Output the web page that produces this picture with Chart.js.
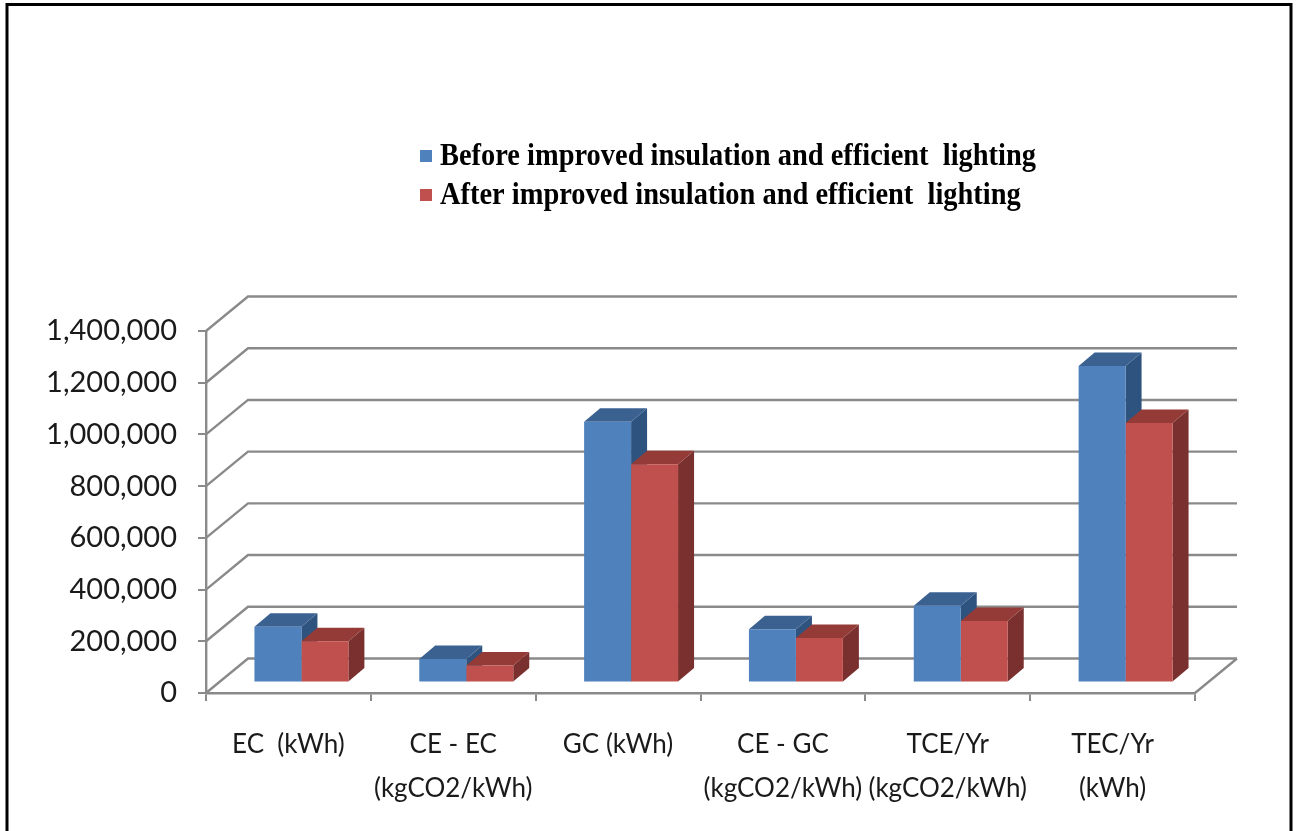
<!DOCTYPE html>
<html>
<head>
<meta charset="utf-8">
<title>Energy use and carbon emissions</title>
<script src="https://cdn.jsdelivr.net/npm/chart.js@4.4.1/dist/chart.umd.min.js"></script>
<style>
  html, body { margin: 0; padding: 0; background: #ffffff; }
  #wrap { position: relative; width: 1298px; height: 831px; }
</style>
</head>
<body>
<div id="wrap"><canvas id="chart" width="1298" height="831"></canvas></div>
<script>
// ---- data ----
const categories = [
  ['EC  (kWh)'],
  ['CE - EC', '(kgCO2/kWh)'],
  ['GC (kWh)'],
  ['CE - GC', '(kgCO2/kWh)'],
  ['TCE/Yr', '(kgCO2/kWh)'],
  ['TEC/Yr', '(kWh)']
];
const seriesNames = [
  'Before improved insulation and efficient  lighting',
  'After improved insulation and efficient  lighting'
];
const beforeValues = [216000, 91000, 1008000, 206000, 297000, 1224000];
const afterValues  = [160000, 66000, 844000, 172000, 238000, 1004000];
const yTickValues  = [0, 200000, 400000, 600000, 800000, 1000000, 1200000, 1400000];

// ---- styling ----
const faceColors = [
  { front: '#4F81BD', top: '#3B6191', side: '#2F537F' },
  { front: '#C0504D', top: '#943A37', side: '#7A302E' }
];
const gridColor = '#8a8a8a';
const labelFont = 'Lato, "Open Sans", sans-serif';
// oblique projection used for the walls and the bar bodies
const proj = {
  wallDx: 42, wallDy: -34.5,       // depth of the floor / side wall
  barShiftX: 13, barShiftY: -10.5, // bars stand part-way into the floor
  barDx: 16, barDy: -13.5          // depth of each bar
};

// frame round the whole figure
const framePlugin = {
  id: 'frame',
  afterDraw(chart) {
    const ctx = chart.ctx;
    ctx.save();
    ctx.strokeStyle = '#000';
    ctx.lineWidth = 3;
    ctx.strokeRect(7, 4.5, 1284, 900);
    ctx.restore();
  }
};

// side wall, back wall and floor, then the depth faces of the bars
const box3dPlugin = {
  id: 'box3d',
  beforeDatasetsDraw(chart) {
    const ctx = chart.ctx;
    const { left, right, bottom } = chart.chartArea;
    const y = chart.scales.y;
    ctx.save();
    ctx.strokeStyle = gridColor;
    ctx.lineWidth = 2.4;
    ctx.lineCap = 'butt';
    y.ticks.forEach(t => {
      const py = y.getPixelForValue(t.value);
      ctx.beginPath();
      ctx.moveTo(left, py);
      ctx.lineTo(left + proj.wallDx, py + proj.wallDy);
      ctx.lineTo(right + proj.wallDx, py + proj.wallDy);
      ctx.stroke();
    });
    ctx.beginPath();
    ctx.moveTo(right, bottom);
    ctx.lineTo(right + proj.wallDx, bottom + proj.wallDy);
    ctx.stroke();
    ctx.restore();

    // bars are drawn shifted into the floor; restored after the datasets
    ctx.save();
    ctx.translate(proj.barShiftX, proj.barShiftY);
    const metas = chart.data.datasets.map((d, i) => chart.getDatasetMeta(i));
    const n = chart.data.labels.length;
    for (let i = 0; i < n; i++) {
      metas.forEach((meta, di) => {
        const bar = meta.data[i];
        const p = bar.getProps(['x', 'y', 'base', 'width']);
        const x0 = p.x - p.width / 2, x1 = p.x + p.width / 2;
        const top = Math.min(p.y, p.base), bot = Math.max(p.y, p.base);
        const c = faceColors[di];
        ctx.fillStyle = c.side;
        ctx.beginPath();
        ctx.moveTo(x1, top);
        ctx.lineTo(x1 + proj.barDx, top + proj.barDy);
        ctx.lineTo(x1 + proj.barDx, bot + proj.barDy);
        ctx.lineTo(x1, bot);
        ctx.closePath();
        ctx.fill();
        ctx.fillStyle = c.top;
        ctx.beginPath();
        ctx.moveTo(x0, top);
        ctx.lineTo(x1, top);
        ctx.lineTo(x1 + proj.barDx, top + proj.barDy);
        ctx.lineTo(x0 + proj.barDx, top + proj.barDy);
        ctx.closePath();
        ctx.fill();
      });
    }
  },
  afterDatasetsDraw(chart) {
    chart.ctx.restore();
  }
};

// two-row legend above the plot
const legendRowsPlugin = {
  id: 'legendRows',
  afterDraw(chart) {
    const ctx = chart.ctx;
    ctx.save();
    ctx.font = 'bold 32px "Liberation Serif", "DejaVu Serif", serif';
    ctx.textBaseline = 'middle';
    ctx.textAlign = 'left';
    const w0 = ctx.measureText(chart.data.datasets[0].label).width;
    const squeeze = 596 / w0;
    chart.data.datasets.forEach((ds, i) => {
      const cy = 156 + i * 39;
      ctx.fillStyle = ds.backgroundColor;
      ctx.fillRect(420, cy - 6, 12, 12);
      ctx.save();
      ctx.translate(440, cy + 1);
      ctx.scale(squeeze, 1);
      ctx.fillStyle = '#000';
      ctx.fillText(ds.label, 0, 0);
      ctx.restore();
    });
    ctx.restore();
  }
};

new Chart(document.getElementById('chart'), {
  type: 'bar',
  data: {
    labels: categories,
    datasets: [
      { label: seriesNames[0], data: beforeValues, backgroundColor: faceColors[0].front },
      { label: seriesNames[1], data: afterValues,  backgroundColor: faceColors[1].front }
    ]
  },
  options: {
    responsive: false,
    animation: false,
    devicePixelRatio: 1,
    layout: { padding: { top: 331, right: 103, bottom: 0, left: 0 } },
    datasets: { bar: { categoryPercentage: 0.57, barPercentage: 1.0, borderWidth: 0 } },
    plugins: { legend: { display: false }, tooltip: { enabled: false } },
    scales: {
      x: {
        grid: { display: true, offset: true, drawOnChartArea: false, drawTicks: true, tickLength: 8, color: gridColor, lineWidth: 2 },
        border: { display: true, color: gridColor, width: 2.4 },
        ticks: {
          autoSkip: false, maxRotation: 0, minRotation: 0, padding: 22,
          color: '#1a1a1a',
          font: { family: labelFont, size: 26, lineHeight: 1.69 }
        },
        afterFit(scale) { scale.height = 138; }
      },
      y: {
        min: 0, max: 1400000,
        afterBuildTicks(scale) { scale.ticks = yTickValues.map(v => ({ value: v })); },
        grid: { display: true, drawOnChartArea: false, drawTicks: true, tickLength: 8, color: gridColor, lineWidth: 2 },
        border: { display: true, color: gridColor, width: 2.4 },
        ticks: {
          padding: 21,
          color: '#1a1a1a',
          font: { family: labelFont, size: 29 },
          callback: v => v.toLocaleString('en-US')
        },
        afterFit(scale) { scale.width = 206; }
      }
    }
  },
  plugins: [box3dPlugin, legendRowsPlugin, framePlugin]
});
</script>
</body>
</html>
